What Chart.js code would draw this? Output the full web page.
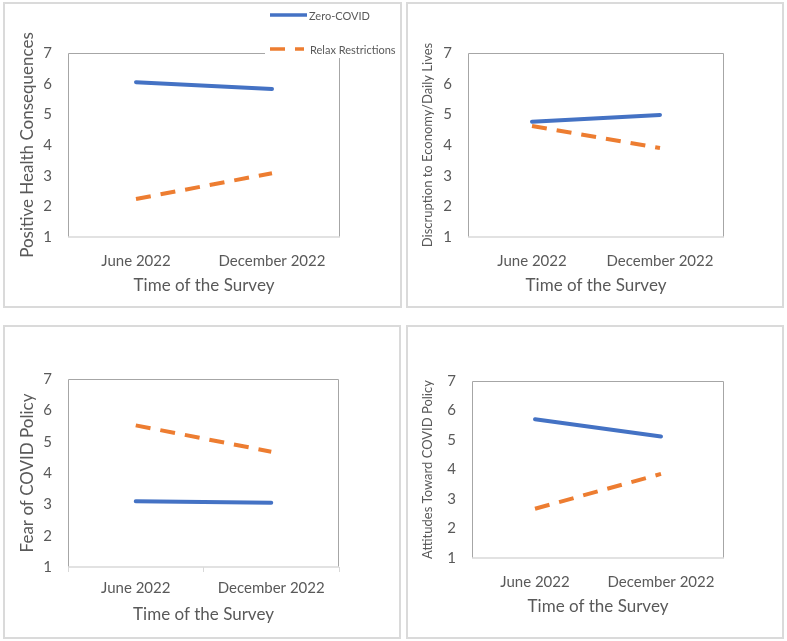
<!DOCTYPE html>
<html>
<head>
<meta charset="utf-8">
<script src="https://cdn.jsdelivr.net/npm/chart.js@4"></script>
<style>
  body { margin: 0; background: #fff; }
  .panel { position: absolute; box-sizing: border-box; border: 2px solid #dadada; background: #fff; }
  .panel div { position: relative; width: 100%; height: 100%; }
</style>
</head>
<body>
<div class="panel" style="left:3px; top:2px; width:399px; height:306px;"><div><canvas id="chartHealth"></canvas></div></div>
<div class="panel" style="left:406px; top:2px; width:378px; height:306px;"><div><canvas id="chartEconomy"></canvas></div></div>
<div class="panel" style="left:3px; top:325px; width:398px; height:314px;"><div><canvas id="chartFear"></canvas></div></div>
<div class="panel" style="left:406px; top:325px; width:378px; height:314px;"><div><canvas id="chartAttitude"></canvas></div></div>
<script>
const surveyTimes = ['June 2022', 'December 2022'];
const seriesNames = ['Zero-COVID', 'Relax Restrictions'];

const healthZero = [6.05, 5.83];
const healthRelax = [2.24, 3.08];
const economyZero = [4.76, 4.98];
const economyRelax = [4.62, 3.90];
const fearZero = [3.10, 3.05];
const fearRelax = [5.52, 4.68];
const attitudeZero = [5.70, 5.12];
const attitudeRelax = [2.67, 3.85];

const FONT = 'Lato, "Open Sans", sans-serif';
const GREY = '#595959';

// plot frame: dark grey top/left/right, light grey bottom
const frame = {
  id: 'frame',
  beforeDatasetsDraw(chart) {
    const { ctx, chartArea: a } = chart;
    ctx.save();
    ctx.lineWidth = 1;
    ctx.strokeStyle = '#a6a6a6';
    ctx.beginPath();
    ctx.moveTo(a.left + 0.5, a.bottom);
    ctx.lineTo(a.left + 0.5, a.top + 0.5);
    ctx.lineTo(a.right - 0.5, a.top + 0.5);
    ctx.lineTo(a.right - 0.5, a.bottom);
    ctx.stroke();
    ctx.strokeStyle = '#d9d9d9';
    ctx.lineWidth = 1.5;
    ctx.beginPath();
    ctx.moveTo(a.left, a.bottom);
    ctx.lineTo(a.right, a.bottom);
    ctx.stroke();
    ctx.restore();
  }
};

// vertical legend in the top right corner of the first panel
const cornerLegend = {
  id: 'cornerLegend',
  afterDraw(chart) {
    const { ctx } = chart;
    ctx.save();
    ctx.fillStyle = '#fff';
    ctx.fillRect(260, 0, chart.width - 260, 54);
    chart.data.datasets.forEach((ds, i) => {
      const y = i === 0 ? 11 : 45;
      ctx.strokeStyle = ds.borderColor;
      ctx.lineWidth = 3.5;
      ctx.setLineDash(ds.borderDash || []);
      ctx.beginPath();
      ctx.moveTo(265, y);
      ctx.lineTo(i === 0 ? 302 : 299, y);
      ctx.stroke();
      ctx.setLineDash([]);
      ctx.fillStyle = GREY;
      ctx.font = '11px ' + FONT;
      ctx.textBaseline = 'middle';
      ctx.fillText(ds.label, i === 0 ? 304 : 305, y + 1);
    });
    ctx.restore();
  }
};

function makePanel(id, yTitle, zero, relax, s) {
  return new Chart(document.getElementById(id), {
    type: 'line',
    data: {
      labels: surveyTimes,
      datasets: [
        { label: seriesNames[0], data: zero, borderColor: '#4472c4', borderWidth: 4, borderCapStyle: 'round', pointRadius: 0, tension: 0 },
        { label: seriesNames[1], data: relax, borderColor: '#ed7d31', borderWidth: 4, borderDash: [15, 10], pointRadius: 0, tension: 0 }
      ]
    },
    options: {
      responsive: true,
      maintainAspectRatio: false,
      animation: false,
      layout: { padding: { top: s.top, right: s.right, left: 0, bottom: 0 } },
      plugins: {
        legend: { display: false },
        tooltip: { enabled: false }
      },
      scales: {
        x: {
          offset: true,
          border: { display: false },
          grid: { display: !!s.ticks, drawTicks: !!s.ticks, drawOnChartArea: false, offset: true, tickLength: 5, color: '#d9d9d9' },
          ticks: { color: GREY, font: { family: FONT, size: 15 }, padding: s.ticks ? 7 : 15, maxRotation: 0 },
          title: { display: true, text: 'Time of the Survey', color: GREY, font: { family: FONT, size: 17 }, padding: { bottom: s.xTitlePad, top: 0 } },
          afterFit: (scale) => { scale.height = s.xHeight; }
        },
        y: {
          min: 1,
          max: 7,
          border: { display: false },
          grid: { display: false, drawTicks: false },
          ticks: { stepSize: 1, color: GREY, font: { family: FONT, size: 15 }, padding: 16 },
          title: { display: true, text: yTitle, color: GREY, font: { family: FONT, size: s.yTitleSize }, padding: { top: s.yTitlePad, bottom: 0 } },
          afterFit: (scale) => { scale.width = s.yWidth; }
        }
      }
    },
    plugins: s.legend ? [frame, cornerLegend] : [frame]
  });
}

const health = makePanel('chartHealth', 'Positive Health Consequences', healthZero, healthRelax,
  { top: 49, right: 60, yWidth: 63, xHeight: 69, xTitlePad: 10, yTitleSize: 17, yTitlePad: 12, legend: true });
const economy = makePanel('chartEconomy', 'Discruption to Economy/Daily Lives', economyZero, economyRelax,
  { top: 49, right: 58, yWidth: 60, xHeight: 69, xTitlePad: 10, yTitleSize: 13, yTitlePad: 12 });
const fear = makePanel('chartFear', 'Fear of COVID Policy', fearZero, fearRelax,
  { top: 52, right: 60, yWidth: 63, xHeight: 70, xTitlePad: 12, yTitleSize: 17, yTitlePad: 12, ticks: true });
const attitude = makePanel('chartAttitude', 'Attitudes Toward COVID Policy', attitudeZero, attitudeRelax,
  { top: 54, right: 58, yWidth: 64, xHeight: 79, xTitlePad: 20, yTitleSize: 13, yTitlePad: 12 });
</script>
</body>
</html>
